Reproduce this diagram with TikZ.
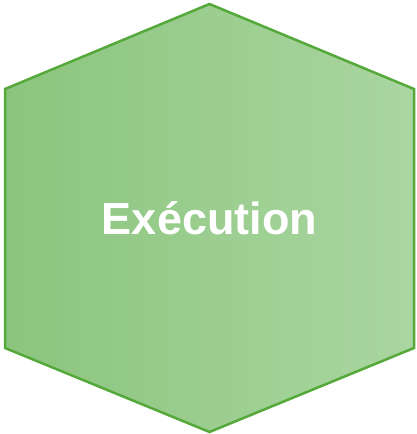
\documentclass[tikz,border=0pt]{standalone}
\usepackage{fontspec}
\setmainfont{Liberation Sans}
\usepackage{tikz}
\usetikzlibrary{positioning,calc}

\definecolor{hexleft}{HTML}{8BC57D}
\definecolor{hexright}{HTML}{AAD6A1}
\definecolor{hexedge}{HTML}{55A83A}

\begin{document}
\begin{tikzpicture}[
  x=1pt, y=-1pt,
  hexa/.style={draw=hexedge, line width=2.5pt, line join=miter,
               left color=hexleft, right color=hexright},
  label/.style={text=white, font=\fontsize{45}{52}\selectfont\bfseries}
]
\useasboundingbox (0,0) rectangle (416,434);
\coordinate (top) at (209.5,4);
\coordinate (ur) at (414,89);
\coordinate (lr) at (414,348);
\coordinate (bot) at (209.5,432);
\coordinate (ll) at (5,348);
\coordinate (ul) at (5,89);
\path[hexa] (top) -- (ur) -- (lr) -- (bot) -- (ll) -- (ul) -- cycle;
\node[label] (title) at (209.5,218) {Exécution};
\end{tikzpicture}
\end{document}
